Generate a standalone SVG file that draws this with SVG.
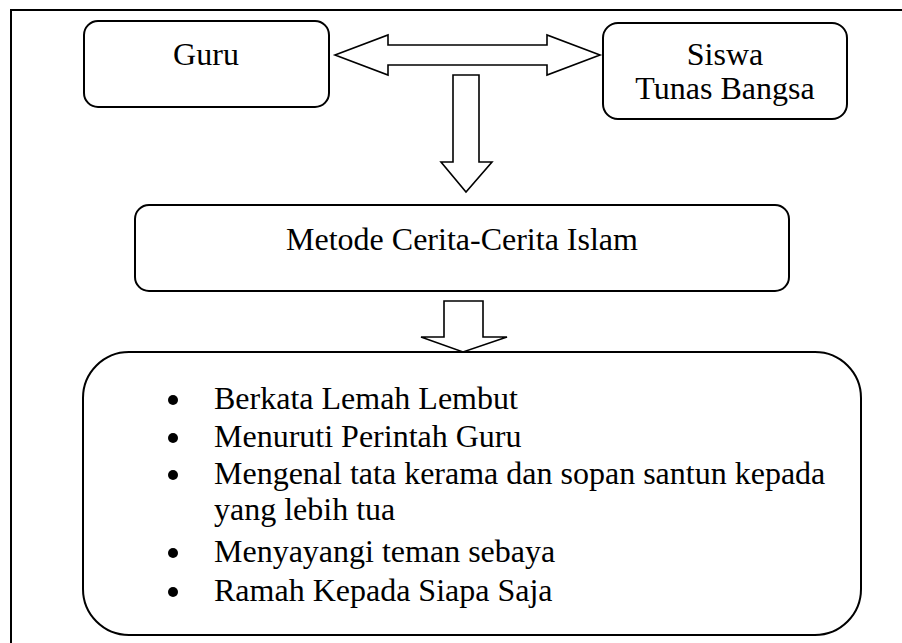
<svg xmlns="http://www.w3.org/2000/svg" width="902" height="643" viewBox="0 0 902 643">
<style>
.box{fill:#fff;stroke:#000;stroke-width:2}
.arr{fill:#fff;stroke:#000;stroke-width:1.6;stroke-linejoin:miter}
.t{font-family:"Liberation Serif","Times New Roman",serif;font-size:32px;fill:#000}
.c{text-anchor:middle}
</style>
<rect width="902" height="643" fill="#fff"/>
<path d="M11,643 V10 H902" fill="none" stroke="#000" stroke-width="2"/>
<g id="connectors">
<polygon class="arr" points="335,55 388,35 388,45 547,45 547,35 600,55 547,75 547,65 388,65 388,75"/>
<polygon class="arr" points="453,75 479,75 479,162 492,162 466,192 441,162 453,162"/>
<polygon class="arr" points="444,301 483,301 483,337 507,337 463,352 421,337 444,337"/>
</g>
<g id="guru">
<rect class="box" x="84" y="21" width="245" height="86" rx="14"/>
<text class="t c" x="206" y="65">Guru</text>
</g>
<g id="siswa">
<rect class="box" x="603" y="23" width="244" height="96" rx="15"/>
<text class="t c" x="725" y="65">Siswa</text>
<text class="t c" x="725" y="99">Tunas Bangsa</text>
</g>
<g id="metode">
<rect class="box" x="135" y="205" width="654" height="86" rx="14"/>
<text class="t c" x="462" y="250">Metode Cerita-Cerita Islam</text>
</g>
<g id="hasil">
<rect class="box" x="83" y="352" width="778" height="283" rx="46"/>
<circle cx="173" cy="400" r="5"/>
<circle cx="173" cy="438" r="5"/>
<circle cx="173" cy="475" r="5"/>
<circle cx="173" cy="553" r="5"/>
<circle cx="173" cy="592" r="5"/>
<text class="t" x="214" y="409">Berkata Lemah Lembut</text>
<text class="t" x="214" y="447">Menuruti Perintah Guru</text>
<text class="t" x="214" y="484">Mengenal tata kerama dan sopan santun kepada</text>
<text class="t" x="214" y="520">yang lebih tua</text>
<text class="t" x="214" y="562">Menyayangi teman sebaya</text>
<text class="t" x="214" y="601">Ramah Kepada Siapa Saja</text>
</g>
</svg>
